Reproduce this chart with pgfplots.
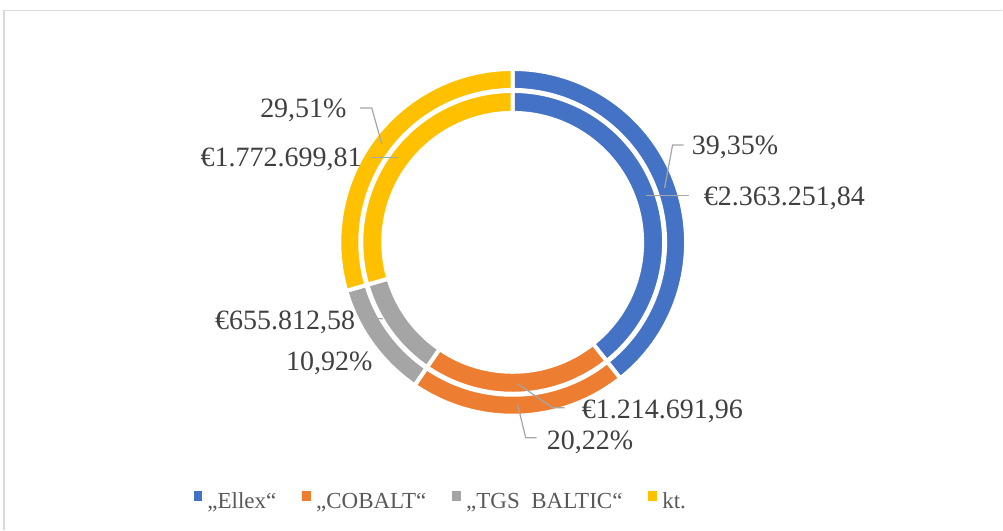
\documentclass[border=0pt]{standalone}
\usepackage{fontspec}
\setmainfont{Liberation Serif}
\usepackage{pgfplots}
\pgfplotsset{compat=1.18}
\definecolor{cA}{HTML}{4472C4}
\definecolor{cB}{HTML}{ED7D31}
\definecolor{cC}{HTML}{A5A5A5}
\definecolor{cD}{HTML}{FFC000}
\definecolor{lbl}{HTML}{404040}
\definecolor{leg}{HTML}{595959}
\definecolor{lead}{HTML}{A6A6A6}
\definecolor{frm}{HTML}{D9D9D9}

% data values (EUR)
\def\vA{2363251.84}
\def\vB{1214691.96}
\def\vC{655812.58}
\def\vD{1772699.81}
\edef\tot{\fpeval{\vA+\vB+\vC+\vD}}
\edef\aS{90}
\edef\aA{\fpeval{90-360*\vA/\tot}}
\edef\aB{\fpeval{\aA-360*\vB/\tot}}
\edef\aC{\fpeval{\aB-360*\vC/\tot}}
\edef\aD{\fpeval{\aC-360*\vD/\tot}}

% segment: colour, start angle, end angle, outer r, inner r
\newcommand\seg[5]{%
\addplot[forget plot, fill=#1, draw=white, line width=3pt, line join=round,
  domain=0:3, samples=241]
 ({513+((#4)-((#4)-(#5))*min(max(x-1,0),1))*cos((#2)+((#3)-(#2))*min(x,1)-((#3)-(#2))*max(x-2,0))},
  {287.5+((#4)-((#4)-(#5))*min(max(x-1,0),1))*sin((#2)+((#3)-(#2))*min(x,1)-((#3)-(#2))*max(x-2,0))}) -- cycle;}

\begin{document}
\begin{tikzpicture}
\begin{axis}[x=0.75pt, y=0.75pt, xmin=0, xmax=1003, ymin=0, ymax=530,
  hide axis, clip=false,
  legend style={at={(axis cs:440,21)}, anchor=base, draw=none, fill=none,
    font=\fontsize{17.25}{20}\selectfont, text=leg, legend columns=4,
    inner sep=0pt, nodes={inner sep=0pt, anchor=base west},
    /tikz/every odd column/.style={column sep=4.5pt},
    /tikz/every even column/.style={column sep=19.5pt}},
  legend cell align=left]

% page extent
\addplot[forget plot, draw=none] coordinates {(0,0) (1003,530)};
% frame
\addplot[forget plot, frm, line width=0.9pt] coordinates {(4,0) (4,519.5) (1003,519.5)};

% outer ring (percentages)
\seg{cA}{\aS}{\aA}{173.5}{152.5}
\seg{cB}{\aA}{\aB}{173.5}{152.5}
\seg{cC}{\aB}{\aC}{173.5}{152.5}
\seg{cD}{\aC}{\aD}{173.5}{152.5}
% inner ring (amounts)
\seg{cA}{\aS}{\aA}{151.5}{129.5}
\seg{cB}{\aA}{\aB}{151.5}{129.5}
\seg{cC}{\aB}{\aC}{151.5}{129.5}
\seg{cD}{\aC}{\aD}{151.5}{129.5}

% leader lines
\addplot[forget plot, lead, line width=0.9pt] coordinates {(665,342) (673,385) (684,385)};
\addplot[forget plot, lead, line width=0.9pt] coordinates {(646,334) (689,334)};
\addplot[forget plot, lead, line width=0.9pt] coordinates {(360,422) (372,422) (382,386)};
\addplot[forget plot, lead, line width=0.9pt] coordinates {(372,372) (398,372)};
\addplot[forget plot, lead, line width=0.9pt] coordinates {(365,212) (383,211)};
\addplot[forget plot, lead, line width=0.9pt] coordinates {(518,146) (553,122) (565,122)};
\addplot[forget plot, lead, line width=0.9pt] coordinates {(518,125) (526,92) (537,92)};

% labels
\tikzset{lb/.style={font=\fontsize{21}{24}\selectfont, text=lbl, inner sep=0pt}}
\node[lb, anchor=base west] at (axis cs:692,375) {39,35\%};
\node[lb, anchor=base west] at (axis cs:704,324) {€2.363.251,84};
\node[lb, anchor=base east] at (axis cs:347,412) {29,51\%};
\node[lb, anchor=base east] at (axis cs:362,363) {€1.772.699,81};
\node[lb, anchor=base west] at (axis cs:215,200) {€655.812,58};
\node[lb, anchor=base east] at (axis cs:373,159) {10,92\%};
\node[lb, anchor=base west] at (axis cs:582,111) {€1.214.691,96};
\node[lb, anchor=base west] at (axis cs:547,80) {20,22\%};

\addlegendimage{legend image code/.code={\fill[cA] (0pt,6pt) rectangle (5.5pt,13pt);}}
\addlegendentry{„Ellex“}
\addlegendimage{legend image code/.code={\fill[cB] (0pt,6pt) rectangle (5.5pt,13pt);}}
\addlegendentry{„COBALT“}
\addlegendimage{legend image code/.code={\fill[cC] (0pt,6pt) rectangle (5.5pt,13pt);}}
\addlegendentry{„TGS\hspace{0.25em} BALTIC“}
\addlegendimage{legend image code/.code={\fill[cD] (0pt,6pt) rectangle (5.5pt,13pt);}}
\addlegendentry{kt.}
\end{axis}
\end{tikzpicture}
\end{document}
